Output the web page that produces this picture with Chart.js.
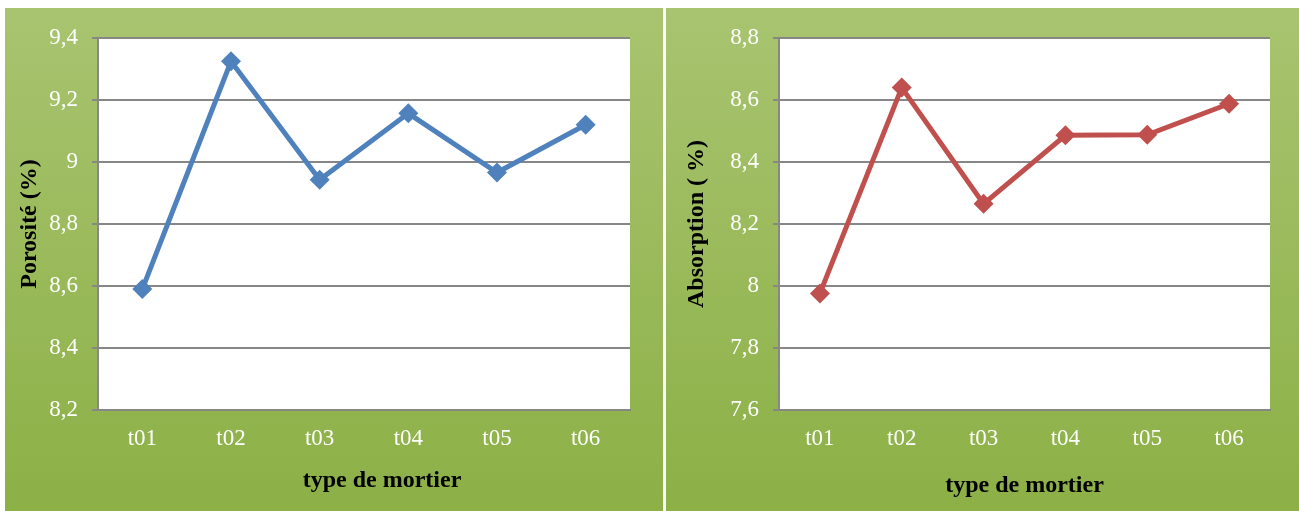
<!DOCTYPE html>
<html>
<head>
<meta charset="utf-8">
<script src="https://cdn.jsdelivr.net/npm/chart.js@4"></script>
<style>
  body { margin: 0; background: #fff; width: 1299px; height: 511px; position: relative; overflow: hidden; }
  canvas { position: absolute; top: 8px; }
  #porosite-chart { left: 5px; }
  #absorption-chart { left: 666px; }
</style>
</head>
<body>
<canvas id="porosite-chart" width="658" height="503"></canvas>
<canvas id="absorption-chart" width="633" height="503"></canvas>
<script>
const mortarTypes = ['t01', 't02', 't03', 't04', 't05', 't06'];
const porositeData = [8.59, 9.325, 8.943, 9.157, 8.966, 9.12];
const absorptionData = [7.976, 8.64, 8.265, 8.486, 8.488, 8.588];
const porositeTicks = [8.2, 9.4];
const absorptionTicks = [7.6, 8.8];

const serif = '"Liberation Serif", "Times New Roman", serif';

// green gradient panel with a white plot area
const panelBackground = {
    id: 'panelBackground',
    beforeDraw(chart) {
        const { ctx, width, height, chartArea } = chart;
        const grad = ctx.createLinearGradient(0, 0, 0, height);
        grad.addColorStop(0, '#a8c470');
        grad.addColorStop(1, '#8cb046');
        ctx.save();
        ctx.fillStyle = grad;
        ctx.fillRect(0, 0, width, height);
        ctx.fillStyle = '#ffffff';
        ctx.fillRect(chartArea.left, chartArea.top, chartArea.right - chartArea.left, chartArea.bottom - chartArea.top);
        ctx.restore();
    }
};

function makeChart(id, label, data, range, color, xTitle, yTitle, yWidth, padRight, xTitlePad, yTitlePad) {
    const ctx = document.getElementById(id).getContext('2d');
    return new Chart(ctx, {
        type: 'line',
        data: {
            labels: mortarTypes,
            datasets: [{
                label: label,
                data: data,
                borderColor: color,
                backgroundColor: color,
                borderWidth: 5,
                pointStyle: 'rectRot',
                pointRadius: 10,
                pointBorderWidth: 0,
                tension: 0
            }]
        },
        options: {
            responsive: false,
            animation: false,
            layout: { padding: { top: 30, right: padRight, left: 0, bottom: 0 } },
            plugins: { legend: { display: false }, tooltip: { enabled: false } },
            scales: {
                x: {
                    offset: true,
                    grid: { display: false, drawTicks: false },
                    border: { display: true, color: '#878787', width: 2 },
                    ticks: { color: '#ffffff', font: { family: serif, size: 23 }, padding: 15 },
                    title: { display: true, text: xTitle, color: '#000', font: { family: serif, size: 24, weight: 'bold' }, padding: { top: 0, bottom: xTitlePad } },
                    afterFit(s) { s.height = 101; }
                },
                y: {
                    min: range[0],
                    max: range[1],
                    grid: { color: '#878787', lineWidth: 2, tickLength: 6, tickColor: '#878787' },
                    border: { display: true, color: '#878787', width: 2 },
                    ticks: {
                        stepSize: 0.2,
                        color: '#ffffff',
                        font: { family: serif, size: 23 },
                        padding: 14,
                        callback: v => String(Math.round(v * 10) / 10).replace('.', ',')
                    },
                    title: { display: true, text: yTitle, color: '#000', font: { family: serif, size: 24, weight: 'bold' }, padding: { top: yTitlePad, bottom: 0 } },
                    afterFit(s) { s.width = yWidth; }
                }
            }
        },
        plugins: [panelBackground]
    });
}

// left title sits a little right of the plot centre
makeChart('porosite-chart', 'Porosité', porositeData, porositeTicks, '#4f81bd', '      type de mortier', 'Porosité (%)', 93, 33, 15.6, 10.6);
makeChart('absorption-chart', 'Absorption', absorptionData, absorptionTicks, '#c0504d', 'type de mortier', 'Absorption ( %)', 113, 29, 10.6, 16.6);
</script>
</body>
</html>
